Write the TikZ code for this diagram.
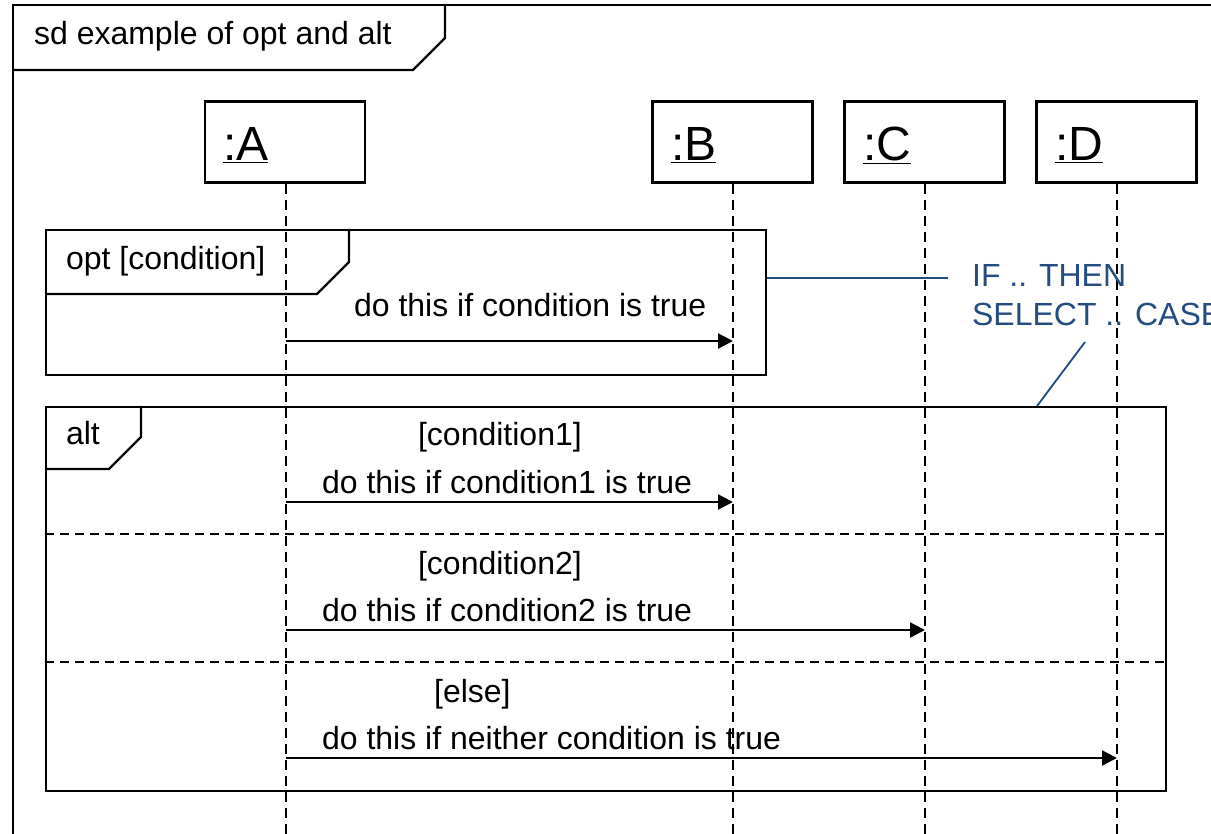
\documentclass[tikz,border=0pt]{standalone}
\usepackage{fontspec}
\setmainfont{Liberation Sans}
\usetikzlibrary{arrows.meta}
\definecolor{noteblue}{RGB}{36,76,130}
\begin{document}
\begin{tikzpicture}[x=1pt,y=-1pt,line width=2.2pt,
  txt/.style={font=\fontsize{32}{38}\selectfont,inner sep=0pt,anchor=base west},
  bigtxt/.style={font=\fontsize{48}{56}\selectfont,inner sep=0pt,anchor=base west},
  lifebox/.style={draw,minimum width=160pt,minimum height=81pt,inner sep=0pt},
  lifeline/.style={dash pattern=on 10pt off 6pt},
  sepline/.style={dash pattern=on 9pt off 6pt},
  msg/.style={-{Triangle[length=15pt,width=15pt]}},
  notetxt/.style={txt,text=noteblue},
  noteline/.style={draw=noteblue,line width=1.8pt},
  framebox/.style={draw,inner sep=0pt,anchor=north west}]
\useasboundingbox (0,0) rectangle (1211,834);

% outer sd frame
\coordinate (sdbl) at (13,834);
\coordinate (sdtl) at (13,5);
\coordinate (sdtr) at (1211,5);
\draw (sdbl) -- (sdtl) -- (sdtr);
\draw (13,70) -- (413,70) -- (445,38) -- (445,5);
\node[txt] (sdlabel) at (33,45) {sd example of opt and alt};

% lifeline heads
\node[lifebox] (A) at (285,142) {};
\node[lifebox] (B) at (732.5,142) {};
\node[lifebox] (C) at (924.5,142) {};
\node[lifebox] (D) at (1116.5,142) {};
\node[bigtxt] (Al) at (222,161) {\underline{:A}};
\node[bigtxt] (Bl) at (670,161) {\underline{:B}};
\node[bigtxt] (Cl) at (862,161) {\underline{:C}};
\node[bigtxt] (Dl) at (1054,161) {\underline{:D}};

% lifelines
\coordinate (Aend) at (286,836);
\coordinate (Bend) at (733,836);
\coordinate (Cend) at (925,836);
\coordinate (Dend) at (1117,836);
\draw[lifeline] (A.south -| Aend) -- (Aend);
\draw[lifeline] (B.south -| Bend) -- (Bend);
\draw[lifeline] (C.south -| Cend) -- (Cend);
\draw[lifeline] (D.south -| Dend) -- (Dend);

% opt frame
\node[framebox,minimum width=720pt,minimum height=145pt] (opt) at (45,229) {};
\draw (45,294) -- (317,294) -- (349,262) -- (349,229);
\node[txt] (optlabel) at (65,270) {opt [condition]};

% alt frame
\node[framebox,minimum width=1120pt,minimum height=384pt] (alt) at (45,406) {};
\draw (45,469) -- (109,469) -- (141,437) -- (141,406);
\node[txt] (altlabel) at (65,445) {alt};
\coordinate (s1l) at (45,534);
\coordinate (s1r) at (1165,534);
\coordinate (s2l) at (45,662);
\coordinate (s2r) at (1165,662);
\draw[sepline] (s1l) -- (s1r);
\draw[sepline] (s2l) -- (s2r);

% messages
\coordinate (a1) at (286,341); \coordinate (b1) at (733,341);
\coordinate (a2) at (286,502); \coordinate (b2) at (733,502);
\coordinate (a3) at (286,630); \coordinate (c3) at (925,630);
\coordinate (a4) at (286,758); \coordinate (d4) at (1117,758);
\draw[msg] (a1) -- (b1);
\draw[msg] (a2) -- (b2);
\draw[msg] (a3) -- (c3);
\draw[msg] (a4) -- (d4);
\node[txt] (m1) at (353,317) {do this if condition is true};
\node[txt] (g1) at (417,446) {[condition1]};
\node[txt] (m2) at (321,493) {do this if condition1 is true};
\node[txt] (g2) at (417,574) {[condition2]};
\node[txt] (m3) at (321,621) {do this if condition2 is true};
\node[txt] (g3) at (433,702) {[else]};
\node[txt] (m4) at (321,749) {do this if neither condition is true};

% note
\node[notetxt] (n1) at (971,287) {IF .. THEN};
\node[notetxt] (n2) at (971,326) {SELECT .. CASE};
\coordinate (n1end) at (948,278);
\coordinate (n2end) at (1085,342);
\coordinate (alttop) at (1037,406);
\draw[noteline] (opt.east |- n1end) -- (n1end);
\draw[noteline] (n2end) -- (alttop);
\end{tikzpicture}
\end{document}
